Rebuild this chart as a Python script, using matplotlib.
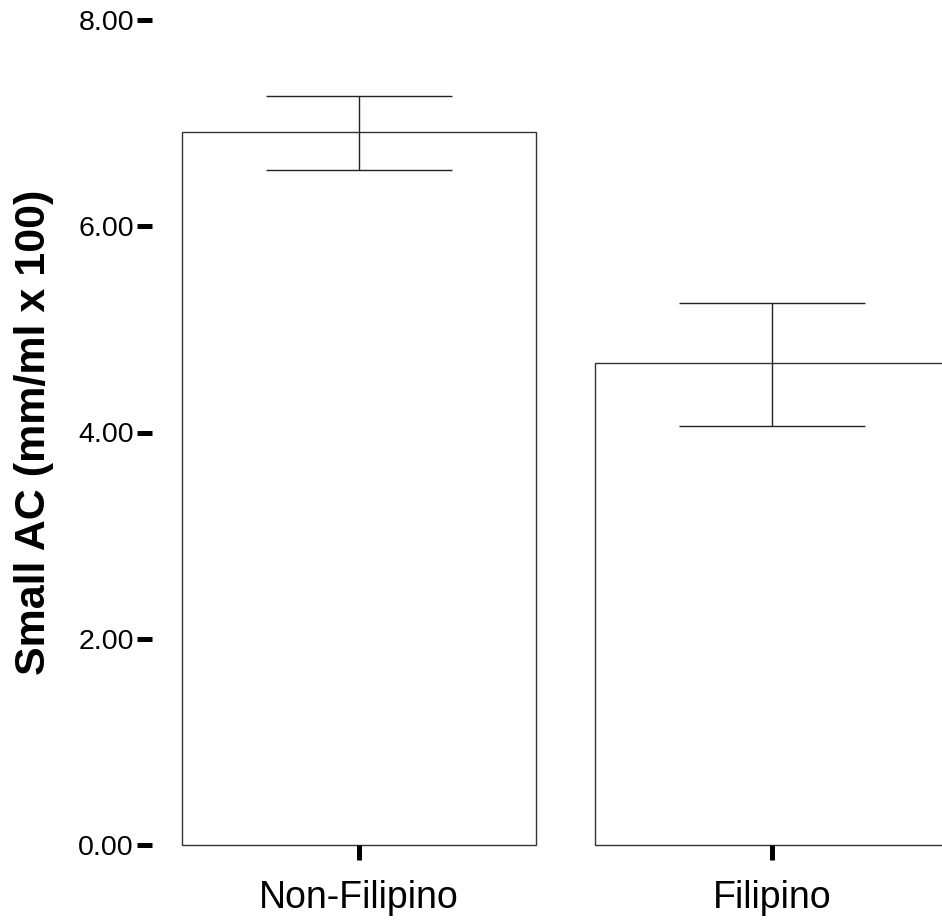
import matplotlib.pyplot as plt
import numpy as np

plt.rcParams['font.family'] = ['Liberation Sans', 'DejaVu Sans']

groups = ["Non-Filipino", "Filipino"]
means = [6.91, 4.67]
err_low = [6.55, 4.06]
err_high = [7.26, 5.26]
y_ticks = [0, 2, 4, 6, 8]

W, H = 942, 923
fig = plt.figure(figsize=(W / 100, H / 100), dpi=100)
# axes extends past the right edge of the figure, as in the (cropped) original
ax = fig.add_axes([152 / W, (H - 845) / H, 827 / W, 825 / H])

x = np.arange(len(groups))
means = np.array(means)
yerr = np.array([means - np.array(err_low), np.array(err_high) - means])

bars = ax.bar(x, means, width=0.857, color='white', edgecolor='#333333', linewidth=1.0)
for b in bars:
    b.set_clip_on(False)
ax.errorbar(x, means, yerr=yerr, fmt='none', ecolor='#222222', elinewidth=1.0,
            capsize=67, capthick=1.0)

ax.set_xlim(-0.5, 1.5)
ax.set_ylim(0, 8)
ax.set_yticks(y_ticks)
ax.set_yticklabels(["%.2f" % v for v in y_ticks], fontsize=20.5)
ax.set_xticks(x)
ax.set_xticklabels(groups, fontsize=27)
ax.tick_params(axis='y', length=11, width=3.6, pad=2, color='black')
ax.tick_params(axis='x', length=11, width=3.6, pad=14, color='black')

for s in ax.spines.values():
    s.set_visible(False)

fig.text(34 / W, 1 - 432 / H, "Small AC (mm/ml x 100)", rotation=90,
         ha='center', va='center', fontsize=31, fontweight='bold')

fig.savefig("out.png", dpi=100)
